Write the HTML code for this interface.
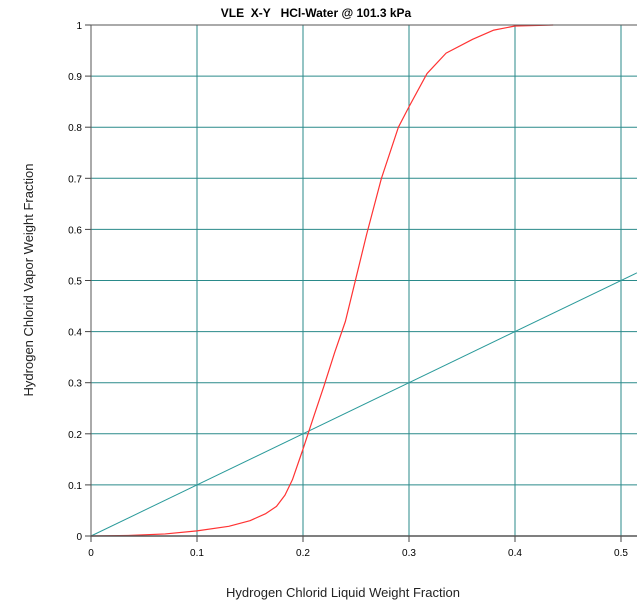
<!DOCTYPE html>
<html><head><meta charset="utf-8"><style>
body{margin:0;background:#fff;}
svg{display:block;font-family:"Liberation Sans",Arial,sans-serif;}
</style></head><body>
<svg id="chart" width="641" height="610">
<text x="316" y="17" text-anchor="middle" font-size="12" font-weight="bold" style="white-space:pre">VLE  X-Y   HCl-Water @ 101.3 kPa</text>
<text x="343" y="597" text-anchor="middle" font-size="13" fill="#222">Hydrogen Chlorid Liquid Weight Fraction</text>
<text transform="translate(33,280) rotate(-90)" text-anchor="middle" font-size="13" fill="#222">Hydrogen Chlorid Vapor Weight Fraction</text>
<g id="grid"></g><g id="series"></g><g id="ticks"></g>
</svg>
<script>
const xTicks=[0,0.1,0.2,0.3,0.4,0.5];
const yTicks=[0,0.1,0.2,0.3,0.4,0.5,0.6,0.7,0.8,0.9,1];
const xTickLabels=["0","0.1","0.2","0.3","0.4","0.5"];
const yTickLabels=["0","0.1","0.2","0.3","0.4","0.5","0.6","0.7","0.8","0.9","1"];
const liquidX=[0,0.035,0.07,0.1,0.13,0.15,0.165,0.175,0.183,0.19,0.2,0.21,0.22,0.23,0.24,0.25,0.26,0.274,0.29,0.3,0.317,0.335,0.36,0.38,0.4,0.436];
const vaporY=[0,0.001,0.004,0.01,0.019,0.03,0.044,0.058,0.08,0.11,0.17,0.233,0.295,0.36,0.42,0.505,0.59,0.7,0.8,0.84,0.905,0.945,0.972,0.99,0.998,1];
const diagX=[0,0.515];
const diagY=[0,0.515];
const ns="http://www.w3.org/2000/svg";
const X0=91,XS=1060,Y0=536,YS=511,XR=637,YT=25;
const sx=v=>X0+v*XS, sy=v=>Y0-v*YS;
function mk(t,a,p){const e=document.createElementNS(ns,t);for(const k in a)e.setAttribute(k,a[k]);document.getElementById(p).appendChild(e);return e;}
xTicks.forEach((v,i)=>{
 if(i>0){const l=mk('line',{x1:sx(v),x2:sx(v),y1:YT,y2:Y0,stroke:'#2a8a8a','stroke-width':1},'grid');
 
 }
 mk('line',{x1:sx(v),x2:sx(v),y1:Y0,y2:Y0+6,stroke:'#444'},'ticks');
 const t=mk('text',{x:sx(v),y:Y0+20,'text-anchor':'middle','font-size':10},'ticks');t.textContent=xTickLabels[i];
 
 
});
yTicks.forEach((v,i)=>{
 if(i>0&&i<yTicks.length-1){const l=mk('line',{x1:X0,x2:XR,y1:sy(v),y2:sy(v),stroke:'#2a8a8a','stroke-width':1},'grid');
 
 }
 mk('line',{x1:X0-6,x2:X0,y1:sy(v),y2:sy(v),stroke:'#444'},'ticks');
 const t=mk('text',{x:X0-9,y:sy(v)+4,'text-anchor':'end','font-size':10},'ticks');t.textContent=yTickLabels[i];
 
 
});
mk('line',{x1:X0,x2:XR,y1:YT,y2:YT,stroke:'#555'},'ticks');
mk('line',{x1:X0,x2:XR,y1:Y0,y2:Y0,stroke:'#555','stroke-width':1.5},'ticks');
mk('line',{x1:X0,x2:X0,y1:YT,y2:Y0,stroke:'#555'},'ticks');
const d=mk('polyline',{points:diagX.map((v,i)=>sx(v)+','+sy(diagY[i])).join(' '),fill:'none',stroke:'#2a9a9a','stroke-width':1},'series');


const c=mk('polyline',{points:liquidX.map((v,i)=>sx(v)+','+sy(vaporY[i])).join(' '),fill:'none',stroke:'#ff3333','stroke-width':1.2,'stroke-linejoin':'round'},'series');


</script>
</body></html>
